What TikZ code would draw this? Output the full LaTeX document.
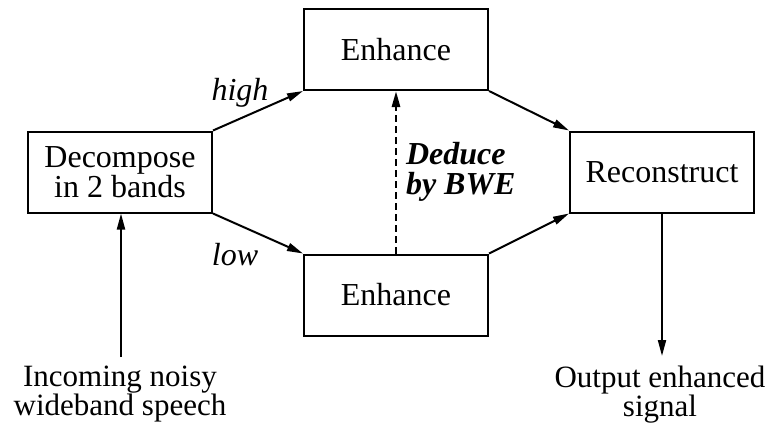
\documentclass[tikz,border=0pt]{standalone}
\usepackage{fontspec}
\setmainfont{Liberation Serif}
\usetikzlibrary{arrows.meta}
\newcommand{\bigfont}{\fontsize{32}{30}\selectfont}

\begin{document}
\begin{tikzpicture}[x=1pt,y=-1pt,line width=2pt,font=\bigfont,
    blk/.style={draw,minimum width=184pt,minimum height=81pt,inner sep=0pt,align=center},
    arr/.style={-{Triangle[length=16pt,width=8pt]}},
    lbl/.style={inner sep=0pt}]
    \useasboundingbox (0,0) rectangle (772,424);
    \node[blk] (dec) at (120,172) {Decompose\\in 2 bands};
    \node[blk] (enhhi) at (396,49.5) {Enhance};
    \node[blk] (enhlo) at (396,295) {Enhance};
    \node[blk] (rec) at (662,172) {Reconstruct};
    \node[lbl,anchor=base,font=\bigfont\itshape] (high) at (240,100) {high};
    \node[lbl,anchor=base,font=\bigfont\itshape] (low) at (235,265) {low};
    \node[lbl,anchor=north west,align=left,font=\bigfont\bfseries\itshape] (bwe) at (405,141) {Deduce\\by BWE};
    \node[lbl,anchor=north,align=center,font=\fontsize{31}{26}\selectfont] (inlbl) at (120,365) {Incoming noisy\\wideband speech};
    \node[lbl,anchor=north,align=center,font=\fontsize{31}{26}\selectfont] (outlbl) at (660,365) {Output enhanced\\signal};
    \coordinate (in) at (121,357);
    \coordinate (out) at (662,356);
    \draw[arr] (dec.north east) -- (enhhi.south west);
    \draw[arr] (dec.south east) -- (enhlo.north west);
    \draw[arr] (enhhi.south east) -- (rec.north west);
    \draw[arr] (enhlo.north east) -- (rec.south west);
    \draw[arr,line width=2.6pt,dash pattern=on 7pt off 4pt] (enhlo.north) -- (enhhi.south);
    \draw[arr] (in) -- (in |- dec.south);
    \draw[arr] (out |- rec.south) -- (out);
\end{tikzpicture}
\end{document}
